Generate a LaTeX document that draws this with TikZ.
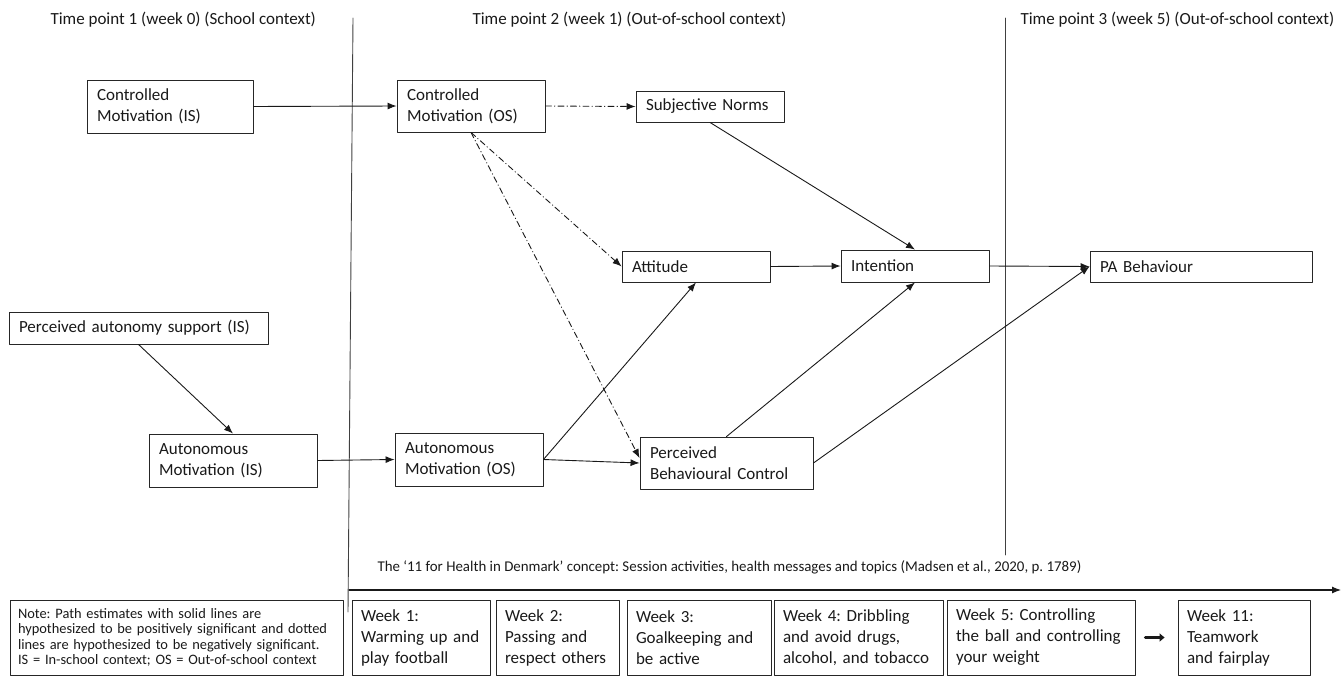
\documentclass[tikz,border=0pt]{standalone}
\usepackage{fontspec}
\setmainfont{Carlito}
\usepackage{tikz}
\usetikzlibrary{arrows.meta, positioning}
\frenchspacing
\tikzset{every node/.style={font=\fontsize{17}{21}\selectfont}, every path/.style={line cap=round, line join=round}, >={Latex[length=9pt, width=7pt]}}
\tikzset{
    construct/.style={draw=black!85, line width=0.9pt, inner xsep=10pt, inner ysep=0pt, align=left, text=black!90},
    weekbox/.style={construct, inner xsep=9pt, minimum height=75pt},
    solidpath/.style={->, line width=0.9pt, black!90},
    dashpath/.style={solidpath, dash pattern=on 6pt off 3pt on 0.5pt off 3pt},
    divider/.style={line width=0.9pt, black!75}
}

\begin{document}
\begin{tikzpicture}[x=1pt, y=-1pt]
    \useasboundingbox (0,0) rectangle (1343,677);

    \node [anchor=west, text=black!90] (tp1) at (47,20) {Time point 1 (week 0) (School context)};
    \node [anchor=west, text=black!90] (tp2) at (469,20) {Time point 2 (week 1) (Out-of-school context)};
    \node [anchor=west, text=black!90] (tp3) at (1017,20) {Time point 3 (week 5) (Out-of-school context)};

    \draw [divider] (353,18) -- (348,612);
    \draw [divider] (1005,18) -- (1005,555);

    \node [construct, text width=146pt, minimum height=53pt] (cmis) at (170,106.5) {Controlled\\Motivation (IS)};
    \node [construct, text width=128pt, minimum height=52pt] (cmos) at (471,106) {Controlled\\Motivation (OS)};
    \node [construct, text width=128pt, minimum height=31pt] (sn) at (710,106.5) {Subjective Norms};
    \node [construct, text width=128pt, minimum height=31pt] (att) at (696,266.5) {Attitude};
    \node [construct, text width=128pt, minimum height=32pt] (int) at (915,266) {Intention};
    \node [construct, text width=202pt, minimum height=31pt] (pa) at (1201,266.5) {PA Behaviour};
    \node [construct, text width=153pt, minimum height=52pt] (pbc) at (726.5,463) {Perceived\\Behavioural Control};
    \node [construct, text width=239pt, minimum height=32pt] (pas) at (138.5,328) {Perceived autonomy support (IS)};
    \node [construct, text width=148pt, minimum height=53pt] (amis) at (233,460.5) {Autonomous\\Motivation (IS)};
    \node [construct, text width=128pt, minimum height=53pt] (amos) at (469,459.5) {Autonomous\\Motivation (OS)};

    \draw [solidpath] (cmis.east) -- (cmos.west);
    \draw [dashpath] (cmos.east) -- (sn.west);
    \draw [dashpath] (cmos.south) -- (att.west);
    \draw [dashpath] (cmos.south) -- ([yshift=5pt]pbc.west);
    \draw [solidpath] (sn.south) -- (int.north);
    \draw [solidpath] (att.east) -- (int.west);
    \draw [solidpath] (int.east) -- (pa.west);
    \draw [solidpath] (amos.east) -- (att.south);
    \draw [solidpath] (amos.east) -- (pbc.west);
    \draw [solidpath] (pbc.north) -- (int.south);
    \draw [solidpath] (pbc.east) -- (pa.west);
    \draw [solidpath] (pas.south) -- (amis.north);
    \draw [solidpath] (amis.east) -- (amos.west);

    \node [anchor=west, text=black!90, font=\fontsize{14.9}{18}\selectfont] (concept) at (374,567) {The `11 for Health in Denmark' concept: Session activities, health messages and topics (Madsen et al., 2020, p.~1789)};
    \coordinate (tlstart) at (349,590);
    \coordinate (tlend) at (1341,590);
    \draw [solidpath, line width=1.1pt] (tlstart) -- (tlend);

    \node [
        construct,
        inner xsep=8pt,
        text width=317pt,
        minimum height=75pt,
        font=\fontsize{14.4}{15.5}\selectfont
    ] (note) at (176.5,637.5) {Note: Path estimates with solid lines are\\hypothesized to be positively significant and dotted\\lines are hypothesized to be negatively significant.\\IS = In-school context; OS = Out-of-school context};

    \node [weekbox, text width=120pt] (w1) at (421,637.5) {Week 1:\\Warming up and\\play football};
    \node [weekbox, text width=105pt] (w2) at (557.5,637.5) {Week 2:\\Passing and\\respect others};
    \node [weekbox, text width=126pt] (w3) at (699,637.5) {Week 3:\\Goalkeeping and\\be active};
    \node [weekbox, text width=151pt] (w4) at (858.5,637.5) {Week 4: Dribbling\\and avoid drugs,\\alcohol, and tobacco};
    \node [weekbox, text width=170pt] (w5) at (1041,637.5) {Week 5: Controlling\\the ball and controlling\\your weight};
    \node [weekbox, text width=114pt] (w11) at (1244,637.5) {Week 11:\\Teamwork\\and fairplay};
    \draw [line width=3pt, -{Triangle[length=5pt, width=8pt]}, black!90] ([xshift=10pt]w5.east) -- ([xshift=-13pt]w11.west);
\end{tikzpicture}
\end{document}
